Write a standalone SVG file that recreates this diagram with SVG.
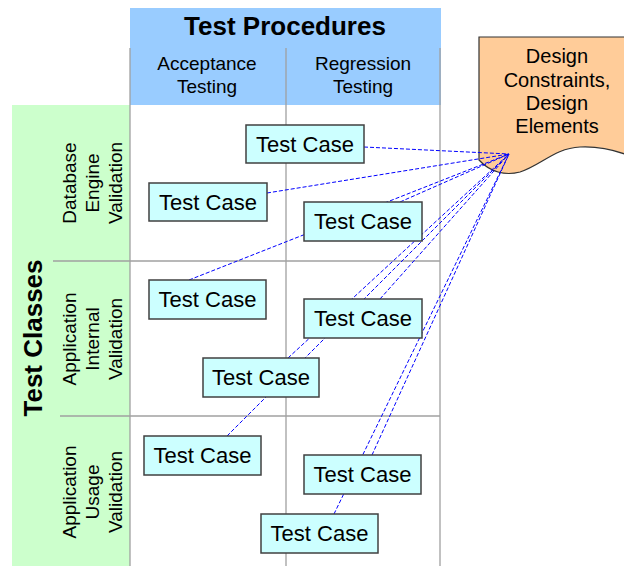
<svg xmlns="http://www.w3.org/2000/svg" width="624" height="566" viewBox="0 0 624 566">
<style>
text{font-family:"Liberation Sans",Arial,sans-serif;fill:#000}
.title{font-size:26px;font-weight:bold}
.sub{font-size:19px}
.doc{font-size:20px}
.tc{font-size:22px}
.grid{stroke:#a0a0a0;stroke-width:1.3;fill:none}
.box{fill:#ccffff;stroke:#404040;stroke-width:1.5}
.conn{stroke:#0000ff;stroke-width:1;stroke-dasharray:4 2;fill:none}
</style>
<rect width="624" height="566" fill="#ffffff"/>
<g id="header">
<rect x="130" y="8" width="311" height="97" fill="#99ccff"/>
<text class="title" x="285" y="35" text-anchor="middle">Test Procedures</text>
<text class="sub" x="207" y="70" text-anchor="middle">Acceptance</text>
<text class="sub" x="207" y="93" text-anchor="middle">Testing</text>
<text class="sub" x="363" y="70" text-anchor="middle">Regression</text>
<text class="sub" x="363" y="93" text-anchor="middle">Testing</text>
</g>
<g id="classes">
<rect x="12" y="105" width="118" height="461" fill="#ccffcc"/>
<text class="title" transform="translate(42,338) rotate(-90)" text-anchor="middle">Test Classes</text>
<text class="sub" transform="translate(76,183) rotate(-90)" text-anchor="middle">Database</text>
<text class="sub" transform="translate(99,183) rotate(-90)" text-anchor="middle">Engine</text>
<text class="sub" transform="translate(122,183) rotate(-90)" text-anchor="middle">Validation</text>
<text class="sub" transform="translate(76,339) rotate(-90)" text-anchor="middle">Application</text>
<text class="sub" transform="translate(99,339) rotate(-90)" text-anchor="middle">Internal</text>
<text class="sub" transform="translate(122,339) rotate(-90)" text-anchor="middle">Validation</text>
<text class="sub" transform="translate(76,492) rotate(-90)" text-anchor="middle">Application</text>
<text class="sub" transform="translate(99,492) rotate(-90)" text-anchor="middle">Usage</text>
<text class="sub" transform="translate(122,492) rotate(-90)" text-anchor="middle">Validation</text>
</g>
<g id="grid">
<line class="grid" x1="130" y1="48" x2="130" y2="566"/>
<line class="grid" x1="286" y1="48" x2="286" y2="566"/>
<line class="grid" x1="440" y1="48" x2="440" y2="566"/>
<line class="grid" x1="53" y1="261" x2="440" y2="261"/>
<line class="grid" x1="60" y1="416" x2="440" y2="416"/>
</g>
<g id="design-doc">
<path d="M479,37 L630,37 L630,156 C615,150 600,146 580,147 C555,148 540,166 520,172 C505,176 490,172 479,160 Z" fill="#ffcc99" stroke="#333333" stroke-width="1.2"/>
<text class="doc" x="557" y="63" text-anchor="middle">Design</text>
<text class="doc" x="557" y="87" text-anchor="middle">Constraints,</text>
<text class="doc" x="557" y="110" text-anchor="middle">Design</text>
<text class="doc" x="557" y="133" text-anchor="middle">Elements</text>
</g>
<g id="connectors">
<line class="conn" x1="364" y1="147" x2="509" y2="154"/>
<line class="conn" x1="267" y1="193" x2="509" y2="154"/>
<line class="conn" x1="400" y1="202" x2="509" y2="154"/>
<line class="conn" x1="189" y1="280" x2="509" y2="154"/>
<line class="conn" x1="380" y1="299" x2="509" y2="154"/>
<line class="conn" x1="288" y1="358" x2="509" y2="154"/>
<line class="conn" x1="227" y1="436" x2="509" y2="154"/>
<line class="conn" x1="372" y1="455" x2="509" y2="154"/>
<line class="conn" x1="334" y1="514" x2="509" y2="154"/>
</g>
<g id="tc1"><rect class="box" x="246" y="125" width="118" height="38"/><text class="tc" x="305" y="151.5" text-anchor="middle">Test Case</text></g>
<g id="tc2"><rect class="box" x="149" y="183" width="118" height="38"/><text class="tc" x="208" y="209.5" text-anchor="middle">Test Case</text></g>
<g id="tc3"><rect class="box" x="304" y="202" width="118" height="39"/><text class="tc" x="363" y="229" text-anchor="middle">Test Case</text></g>
<g id="tc4"><rect class="box" x="149" y="280" width="117" height="39"/><text class="tc" x="207.5" y="307" text-anchor="middle">Test Case</text></g>
<g id="tc5"><rect class="box" x="304" y="299" width="118" height="39"/><text class="tc" x="363" y="326" text-anchor="middle">Test Case</text></g>
<g id="tc6"><rect class="box" x="203" y="358" width="116" height="39"/><text class="tc" x="261" y="385" text-anchor="middle">Test Case</text></g>
<g id="tc7"><rect class="box" x="144" y="436" width="117" height="39"/><text class="tc" x="202.5" y="463" text-anchor="middle">Test Case</text></g>
<g id="tc8"><rect class="box" x="304" y="455" width="117" height="39"/><text class="tc" x="362.5" y="482" text-anchor="middle">Test Case</text></g>
<g id="tc9"><rect class="box" x="261" y="514" width="117" height="39"/><text class="tc" x="319.5" y="541" text-anchor="middle">Test Case</text></g>
</svg>
